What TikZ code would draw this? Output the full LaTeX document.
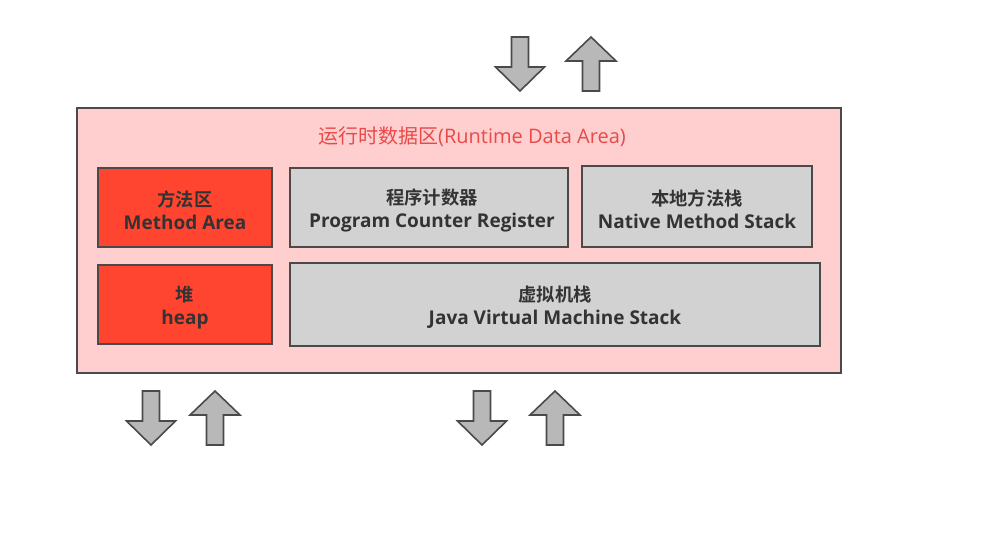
\documentclass[tikz,border=0pt]{standalone}
\usepackage{fontspec}
\setmainfont{Open Sans}
\newfontfamily\cjk{Noto Sans CJK SC}[BoldFont={Noto Sans CJK SC Bold}]
\definecolor{pinkbg}{HTML}{FFCFCF}
\definecolor{redbox}{HTML}{FF4530}
\definecolor{graybox}{HTML}{D2D2D2}
\definecolor{edge}{HTML}{4A4A4A}
\definecolor{txt}{HTML}{333333}
\definecolor{titlered}{HTML}{E84A4A}
\definecolor{arrfill}{HTML}{B8B8B8}
\newcommand{\zh}[1]{{\cjk\fontsize{18.3}{23}\selectfont #1}}
\tikzset{
  area/.style={draw=edge, line width=1.8pt, inner sep=0pt},
  boxtext/.style={inner sep=0pt, align=center, text=txt, yshift=-3pt,
    font=\bfseries\fontsize{19}{23}\selectfont},
  redarea/.style={area, fill=redbox},
  grayarea/.style={area, fill=graybox},
  arrowshape/.style={draw=edge, fill=arrfill, line width=1.6pt, line join=miter},
  downarr/.pic={\draw[arrowshape] (-8.5,0) -- (8.5,0) -- (8.5,30) -- (24.5,30) -- (0,54) -- (-24.5,30) -- (-8.5,30) -- cycle;},
  uparr/.pic={\draw[arrowshape] (0,0) -- (25,24) -- (8.5,24) -- (8.5,54) -- (-8.5,54) -- (-8.5,24) -- (-25,24) -- cycle;}
}
\begin{document}
\begin{tikzpicture}[x=1pt,y=-1pt]
\useasboundingbox[fill=white] (0,0) rectangle (987,537);
\node[draw=edge, line width=1.8pt, fill=pinkbg, minimum width=764pt, minimum height=265pt, inner sep=0pt] (outer) at (459,240.5) {};
\node[text=titlered, font=\fontsize{20}{22}\selectfont, inner sep=0pt] (title) at (472,137) {{\cjk 运行时数据区}(Runtime Data Area)};
\node[redarea, minimum width=174pt, minimum height=79pt,
  label={[boxtext]center:\zh{方法区}\\Method Area}] (method) at (185,207.5) {};
\node[grayarea, minimum width=278pt, minimum height=79pt,
  label={[boxtext, xshift=3pt]center:\zh{程序计数器}\\Program Counter Register}] (pc) at (429,207.5) {};
\node[grayarea, minimum width=230pt, minimum height=81pt,
  label={[boxtext]center:\zh{本地方法栈}\\Native Method Stack}] (native) at (697,206.5) {};
\node[redarea, minimum width=174pt, minimum height=79pt,
  label={[boxtext]center:\zh{堆}\\heap}] (heap) at (185,304.5) {};
\node[grayarea, minimum width=530pt, minimum height=83pt,
  label={[boxtext]center:\zh{虚拟机栈}\\Java Virtual Machine Stack}] (jvm) at (555,304.5) {};
\pic at (520,37) {downarr};
\pic at (591,37) {uparr};
\pic at (151,391) {downarr};
\pic at (215,391) {uparr};
\pic at (482,391) {downarr};
\pic at (555,391) {uparr};
\end{tikzpicture}
\end{document}
